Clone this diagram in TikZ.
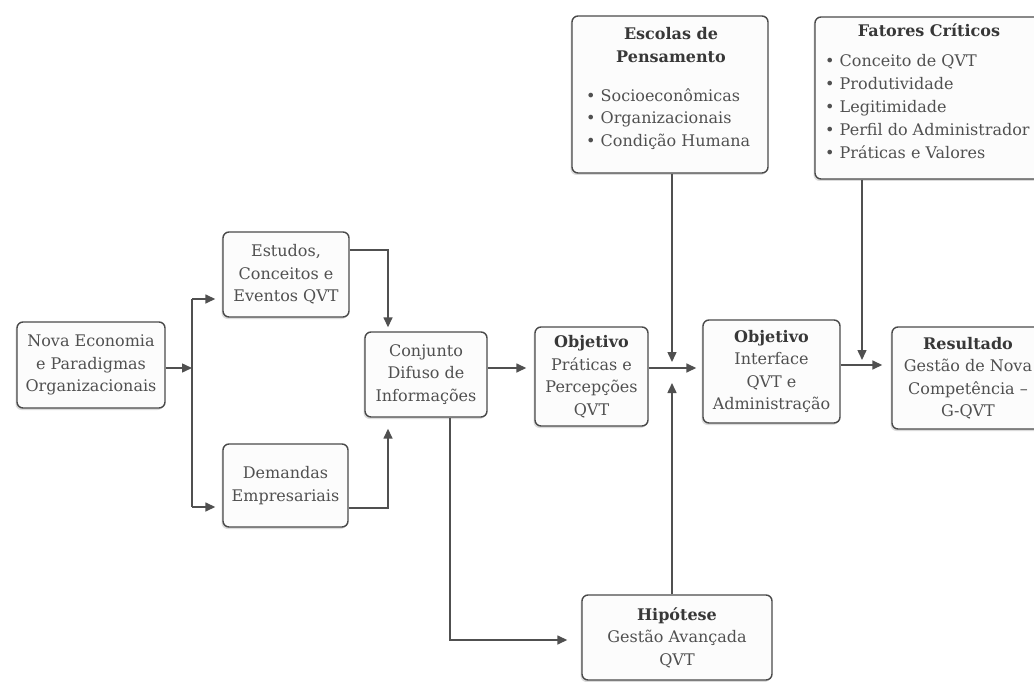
\documentclass[tikz,border=0pt]{standalone}
\usepackage{fontspec}
\setmainfont{DejaVu Serif}
\usetikzlibrary{arrows.meta,shadows}
\definecolor{edge}{HTML}{4A4A4A}
\definecolor{ink}{HTML}{505050}
\definecolor{head}{HTML}{383838}
\definecolor{paper}{HTML}{FCFCFC}
\newcommand\boxtitle[1]{{\bfseries\color{head}#1}}
\begin{document}
\begin{tikzpicture}[x=1pt,y=-1pt,
  txt/.style={text=ink, font=\fontsize{16}{22.5}\selectfont, inner sep=0pt},
  box/.style={txt, draw=edge, line width=1.4pt, fill=paper, rounded corners=6pt,
    align=center,
    drop shadow={shadow xshift=-1.5pt, shadow yshift=-2pt, opacity=0.14, fill=black}},
  conn/.style={draw=ink, line width=1.5pt},
  arr/.style={conn, -{Triangle[length=10pt,width=9pt]}},
  line/.style={txt, anchor=base west},
  title/.style={txt, anchor=base}]
\useasboundingbox (0,0) rectangle (1034,682);

% boxes with centred text
\node[box, minimum width=148pt, minimum height=86pt] (nova) at (91,365)
  {Nova Economia\\e Paradigmas\\Organizacionais};
\node[box, minimum width=126pt, minimum height=85pt] (estudos) at (286,274.5)
  {Estudos,\\Conceitos e\\Eventos QVT};
\node[box, minimum width=125pt, minimum height=83pt] (demandas) at (285.5,485.5)
  {Demandas\\Empresariais};
\node[box, minimum width=122pt, minimum height=85pt] (conjunto) at (426,374.5)
  {Conjunto\\Difuso de\\Informações};
\node[box, minimum width=113pt, minimum height=99pt] (obj1) at (591.5,376.5)
  {\boxtitle{Objetivo}\\Práticas e\\Percepções\\QVT};
\node[box, minimum width=137pt, minimum height=103pt] (obj2) at (771.5,371.5)
  {\boxtitle{Objetivo}\\Interface\\QVT e\\Administração};
\node[box, minimum width=152pt, minimum height=102pt] (result) at (968,378)
  {\boxtitle{Resultado}\\Gestão de Nova\\Competência –\\G-QVT};
\node[box, minimum width=190pt, minimum height=85pt] (hipotese) at (677,637.5)
  {\boxtitle{Hipótese}\\Gestão Avançada\\QVT};

% boxes with a heading and a bullet list
\node[box, minimum width=196pt, minimum height=157pt] (escolas) at (670,94.5) {};
\node[title] (escolas-t1) at (671,40) {\boxtitle{Escolas de}};
\node[title] (escolas-t2) at (671,63) {\boxtitle{Pensamento}};
\node[line] (escolas-l1) at (586,101.5) {• Socioeconômicas};
\node[line] (escolas-l2) at (586,124) {• Organizacionais};
\node[line] (escolas-l3) at (586,146.5) {• Condição Humana};

\node[box, minimum width=225pt, minimum height=162pt] (fatores) at (927.5,98) {};
\node[title] (fatores-t) at (929,37) {\boxtitle{Fatores Críticos}};
\node[line] (fatores-l1) at (825,66.5) {• Conceito de QVT};
\node[line] (fatores-l2) at (825,89.5) {• Produtividade};
\node[line] (fatores-l3) at (825,112.5) {• Legitimidade};
\node[line] (fatores-l4) at (825,135.5) {• Perfil do Administrador};
\node[line] (fatores-l5) at (825,158.5) {• Práticas e Valores};

% junction points of the connectors
\coordinate (split) at (192,368);
\coordinate (splitTop) at (192,299);
\coordinate (splitBot) at (192,507);
\coordinate (estJoin) at (388,250);
\coordinate (demJoin) at (388,508);
\coordinate (hipJoin) at (450,640);
\coordinate (row) at (0,368);
\coordinate (merge) at (672,368);
\coordinate (row2) at (0,365);
\coordinate (merge2) at (862,365);

% connectors
\draw[arr] (nova.east |- split) -- (split);
\draw[conn] (splitTop) -- (splitBot);
\draw[arr] (splitTop) -- ([xshift=-7pt]estudos.west |- splitTop);
\draw[arr] (splitBot) -- ([xshift=-7pt]demandas.west |- splitBot);
\draw[arr] (estudos.east |- estJoin) -- (estJoin) -- ([yshift=4pt]conjunto.north -| estJoin);
\draw[arr] (demandas.east |- demJoin) -- (demJoin) -- ([yshift=-11pt]conjunto.south -| demJoin);
\draw[arr] (conjunto.south -| hipJoin) -- (hipJoin) -- ([xshift=-14pt]hipotese.west |- hipJoin);
\draw[arr] (conjunto.east |- row) -- ([xshift=-8pt]obj1.west |- row);
\draw[arr] (obj1.east |- row) -- ([xshift=-6pt]obj2.west |- row);
\draw[arr] (escolas.south -| merge) -- ([yshift=6pt]merge);
\draw[arr] (hipotese.north -| merge) -- ([yshift=-15pt]merge);
\draw[arr] (obj2.east |- row2) -- ([xshift=-9pt]result.west |- row2);
\draw[arr] (fatores.south -| merge2) -- ([yshift=5pt]merge2);
\end{tikzpicture}
\end{document}
